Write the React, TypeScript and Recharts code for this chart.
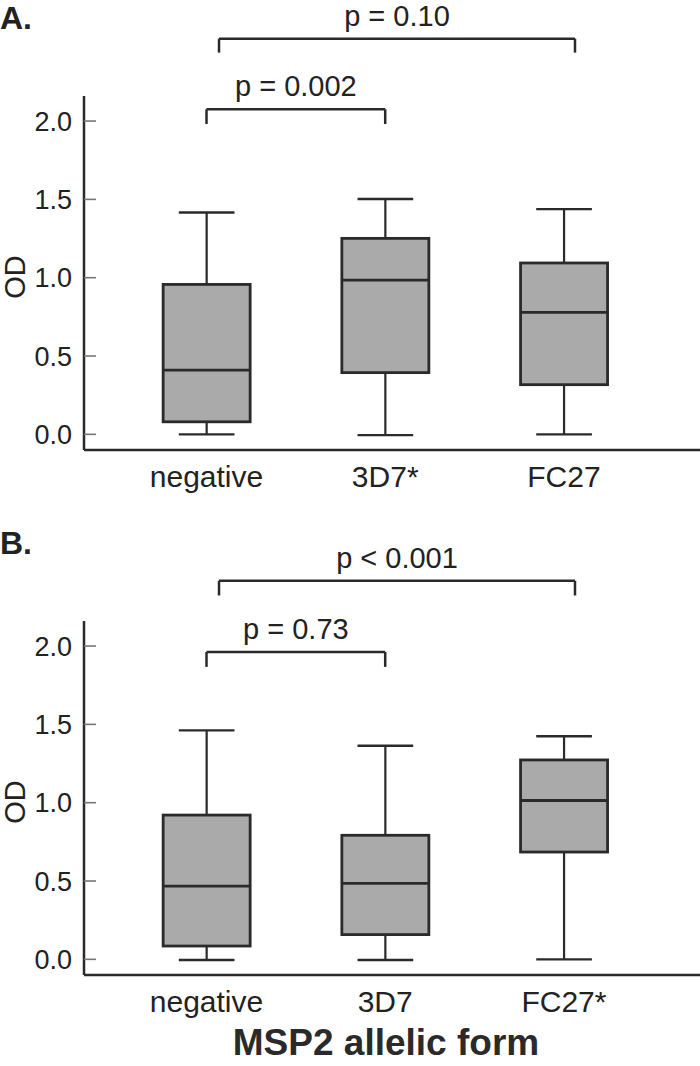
import { ComposedChart, Bar, XAxis, YAxis, ReferenceLine } from 'recharts'

// panel A
const catsA = ['negative', '3D7*', 'FC27']
const minA = [0.0, -0.005, 0.0]
const q1A = [0.08, 0.394, 0.317]
const medA = [0.41, 0.985, 0.779]
const q3A = [0.957, 1.251, 1.094]
const maxA = [1.416, 1.502, 1.438]
const bracketsA = [
  { from: 1, to: 2, y: 2.075, drop: 1.981, text: 'p = 0.002' },
  { from: 1.07, to: 3.062, y: 2.526, drop: 2.437, text: 'p = 0.10' },
]

// panel B
const catsB = ['negative', '3D7', 'FC27*']
const minB = [-0.004, -0.004, 0.0]
const q1B = [0.085, 0.158, 0.685]
const medB = [0.468, 0.485, 1.014]
const q3B = [0.921, 0.792, 1.273]
const maxB = [1.462, 1.364, 1.424]
const bracketsB = [
  { from: 1, to: 2, y: 1.962, drop: 1.867, text: 'p = 0.73' },
  { from: 1.07, to: 3.062, y: 2.417, drop: 2.323, text: 'p < 0.001' },
]

const yTicks = [0, 0.5, 1, 1.5, 2]

const FONT = '"Liberation Sans", Arial, Helvetica, sans-serif'
const INK = '#2a2a2a'

function BoxShape(props: any) {
  const { x, y, width, height, payload } = props
  const top = Math.min(y, y + height)
  const h = Math.abs(height)
  const span = payload.max - payload.min
  const py = (v: number) => top + (h * (payload.max - v)) / span
  const cx = x + width / 2
  const cap = width * 0.32
  return (
    <g>
      <line x1={cx} x2={cx} y1={py(payload.max)} y2={py(payload.q3)} stroke={INK} strokeWidth={2.2} />
      <line x1={cx} x2={cx} y1={py(payload.q1)} y2={py(payload.min)} stroke={INK} strokeWidth={2.2} />
      <line x1={cx - cap} x2={cx + cap} y1={py(payload.max)} y2={py(payload.max)} stroke={INK} strokeWidth={2.4} />
      <line x1={cx - cap} x2={cx + cap} y1={py(payload.min)} y2={py(payload.min)} stroke={INK} strokeWidth={2.4} />
      <rect x={x} y={py(payload.q3)} width={width} height={py(payload.q1) - py(payload.q3)}
        fill="#aaaaaa" stroke={INK} strokeWidth={2.8} />
      <line x1={x} x2={x + width} y1={py(payload.med)} y2={py(payload.med)} stroke={INK} strokeWidth={2.8} />
    </g>
  )
}

function OdLabel({ viewBox }: any) {
  const cx = viewBox.x + 25
  const cy = viewBox.y + viewBox.height / 2 + 4
  return (
    <text x={cx} y={cy} transform={`rotate(-90 ${cx} ${cy})`} textAnchor="middle"
      fontFamily={FONT} fontSize={29} fill="#222">OD</text>
  )
}

function FormLabel({ viewBox }: any) {
  return (
    <text x={viewBox.x + viewBox.width / 2 - 6} y={viewBox.y + 80} textAnchor="middle"
      fontFamily={FONT} fontSize={37} fontWeight="bold" fill="#2a2a2a">MSP2 allelic form</text>
  )
}

interface PanelProps {
  tag: string
  cats: string[]
  mins: number[]; q1s: number[]; meds: number[]; q3s: number[]; maxs: number[]
  brackets: { from: number; to: number; y: number; drop: number; text: string }[]
  height: number
  axisHeight: number
  showTitle?: boolean
}

function Panel({ tag, cats, mins, q1s, meds, q3s, maxs, brackets, height, axisHeight, showTitle }: PanelProps) {
  const data = cats.map((name, i) => ({
    pos: i + 1, name,
    range: [mins[i], maxs[i]],
    min: mins[i], q1: q1s[i], med: meds[i], q3: q3s[i], max: maxs[i],
  }))
  return (
    <div style={{ position: 'relative', width: 700, height }}>
      <ComposedChart width={700} height={height} data={data} margin={{ top: 96, right: 0, bottom: 0, left: 0 }}
        style={{ position: 'absolute', left: 0, top: 0 }}>
        <XAxis dataKey="pos" type="number" domain={[0.3145, 3.7615]} ticks={[1, 2, 3]} allowDataOverflow
          tickFormatter={(v: number) => cats[v - 1] ?? ''} height={axisHeight}
          tick={{ fontSize: 30, fill: '#222', fontFamily: FONT }} tickLine={false} tickSize={6} tickMargin={10}
          axisLine={{ stroke: INK, strokeWidth: 2.5 }}
          label={showTitle ? <FormLabel /> : undefined} />
        <YAxis type="number" domain={[-0.1, 2.16]} ticks={yTicks} allowDataOverflow width={84}
          tickFormatter={(v: number) => v.toFixed(1)}
          tick={{ fontSize: 27, fill: '#222', fontFamily: FONT }}
          tickSize={-12} tickMargin={24} tickLine={{ stroke: '#777', strokeWidth: 1.6 }}
          axisLine={{ stroke: INK, strokeWidth: 2.5 }}
          label={<OdLabel />} />
        <Bar dataKey="range" barSize={87} shape={BoxShape} isAnimationActive={false} />
        {brackets.map((b, i) => (
          <ReferenceLine key={`h${i}`} segment={[{ x: b.from, y: b.y }, { x: b.to, y: b.y }]} ifOverflow="visible"
            stroke={INK} strokeWidth={2.5}
            label={{ value: b.text, position: 'top', offset: 13, fontSize: 29, fill: '#222', fontFamily: FONT }} />
        ))}
        {brackets.map((b, i) => (
          <ReferenceLine key={`l${i}`} segment={[{ x: b.from, y: b.y }, { x: b.from, y: b.drop }]} ifOverflow="visible"
            stroke={INK} strokeWidth={2.5} />
        ))}
        {brackets.map((b, i) => (
          <ReferenceLine key={`r${i}`} segment={[{ x: b.to, y: b.y }, { x: b.to, y: b.drop }]} ifOverflow="visible"
            stroke={INK} strokeWidth={2.5} />
        ))}
      </ComposedChart>
      <div style={{ position: 'absolute', left: 0, top: 2, lineHeight: 1, fontFamily: FONT, fontWeight: 'bold', fontSize: 32, color: '#222' }}>{tag}</div>
    </div>
  )
}

export default function App() {
  return (
    <div style={{ position: 'absolute', left: 0, top: 0, width: 700, height: 1066, background: '#fff', overflow: 'hidden' }}>
      <Panel tag="A." cats={catsA} mins={minA} q1s={q1A} meds={medA} q3s={q3A} maxs={maxA}
        brackets={bracketsA} height={525} axisHeight={75} />
      <Panel tag="B." cats={catsB} mins={minB} q1s={q1B} meds={medB} q3s={q3B} maxs={maxB}
        brackets={bracketsB} height={541} axisHeight={91} showTitle />
    </div>
  )
}
